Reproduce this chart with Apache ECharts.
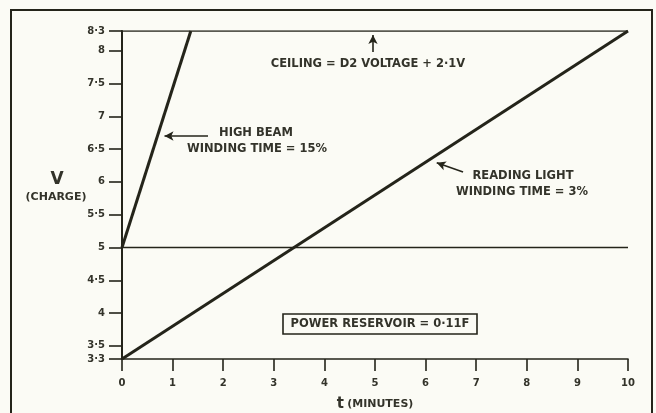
<!DOCTYPE html>
<html>
<head>
<meta charset="utf-8">
<script src="https://cdn.jsdelivr.net/npm/echarts@6/dist/echarts.min.js"></script>
<style>
html,body{margin:0;padding:0;background:#fbfbf5;}
#c{width:656px;height:413px;}
</style>
</head>
<body>
<div id="c"></div>
<script>
// ---- data ----
const xTicks = [0,1,2,3,4,5,6,7,8,9,10];
const yTicks = [3.3,3.5,4,4.5,5,5.5,6,6.5,7,7.5,8,8.3];
const highBeam = [[0,5],[1.36,8.3]];
const readingLight = [[0,3.3],[10,8.3]];
const ceiling = [[0,8.3],[10,8.3]];
const startLevel = [[0,5],[10,5]];
const arrowCeiling = [[4.96,7.98],[4.96,8.24]];
const arrowHighBeam = [[1.70,6.70],[0.84,6.70]];
const arrowReading = [[6.74,6.15],[6.22,6.29]];

const ink = '#24241a';
const txt = '#33332a';
const font = '"DejaVu Sans", "Liberation Sans", sans-serif';
const fmt = v => String(+v.toFixed(2)).replace('.', '·');

const chart = echarts.init(document.getElementById('c'), null, {renderer:'canvas'});

function arrowLine(pts){
  return {
    silent:true,
    symbol:['none','arrow'],
    symbolSize:[7,9],
    label:{show:false},
    lineStyle:{color:ink,width:1.6,type:'solid'},
    data:[[{coord:pts[0]},{coord:pts[1]}]]
  };
}

const ann = 'bold 11.5px ' + font;

chart.setOption({
  backgroundColor:'#fbfbf5',
  animation:false,
  grid:{left:122,right:28,top:31,bottom:54,outerBoundsMode:'none',containLabel:false},
  xAxis:{
    type:'value',min:0,max:10,interval:1,
    axisLine:{show:true,lineStyle:{color:ink,width:1.6}},
    axisTick:{show:true,inside:false,length:12,lineStyle:{color:ink,width:1.6}},
    axisLabel:{color:txt,fontFamily:font,fontWeight:'bold',fontSize:10,margin:19},
    splitLine:{show:false},
    name:'{t|t} {m|(MINUTES)}',
    nameLocation:'middle',nameGap:38,
    nameTextStyle:{rich:{
      t:{fontFamily:font,fontWeight:'bold',fontSize:15,color:txt},
      m:{fontFamily:font,fontWeight:'bold',fontSize:11,color:txt}
    }}
  },
  yAxis:{
    type:'value',min:3.3,max:8.3,
    axisLine:{show:true,lineStyle:{color:ink,width:2}},
    axisTick:{show:true,inside:false,length:13,customValues:yTicks,lineStyle:{color:ink,width:1.6}},
    axisLabel:{customValues:yTicks,formatter:fmt,color:txt,fontFamily:font,fontWeight:'bold',fontSize:10,margin:17},
    splitLine:{show:false}
  },
  series:[
    {type:'line',data:startLevel,symbol:'none',silent:true,lineStyle:{color:ink,width:1.4}},
    {type:'line',data:ceiling,symbol:'none',silent:true,lineStyle:{color:ink,width:1.6}},
    {type:'line',data:highBeam,symbol:'none',silent:true,lineStyle:{color:ink,width:3}},
    {type:'line',data:readingLight,symbol:'none',silent:true,lineStyle:{color:ink,width:3}},
    {type:'line',data:[],symbol:'none',markLine:arrowLine(arrowCeiling)},
    {type:'line',data:[],symbol:'none',markLine:arrowLine(arrowHighBeam)},
    {type:'line',data:[],symbol:'none',markLine:arrowLine(arrowReading)}
  ],
  graphic:[
    {type:'rect',shape:{x:11,y:10,width:641,height:430},style:{fill:'none',stroke:ink,lineWidth:2},silent:true},
    {type:'text',x:57,y:180,style:{text:'V',font:'bold 17px '+font,fill:txt,align:'center',verticalAlign:'middle'}},
    {type:'text',x:56,y:197,style:{text:'(CHARGE)',font:'bold 11px '+font,fill:txt,align:'center',verticalAlign:'middle'}},
    {type:'text',x:368,y:64,style:{text:'CEILING = D2 VOLTAGE + 2·1V',font:ann,fill:txt,align:'center',verticalAlign:'middle'}},
    {type:'text',x:256,y:133,style:{text:'HIGH BEAM',font:ann,fill:txt,align:'center',verticalAlign:'middle'}},
    {type:'text',x:257,y:149,style:{text:'WINDING TIME = 15%',font:ann,fill:txt,align:'center',verticalAlign:'middle'}},
    {type:'text',x:523,y:176,style:{text:'READING LIGHT',font:ann,fill:txt,align:'center',verticalAlign:'middle'}},
    {type:'text',x:522,y:192,style:{text:'WINDING TIME = 3%',font:ann,fill:txt,align:'center',verticalAlign:'middle'}},
    {type:'rect',shape:{x:283,y:314,width:194,height:20},style:{fill:'#fbfbf5',stroke:ink,lineWidth:1.6},silent:true},
    {type:'text',x:380,y:324,style:{text:'POWER RESERVOIR = 0·11F',font:ann,fill:txt,align:'center',verticalAlign:'middle'}}
  ]
});
</script>
</body>
</html>
